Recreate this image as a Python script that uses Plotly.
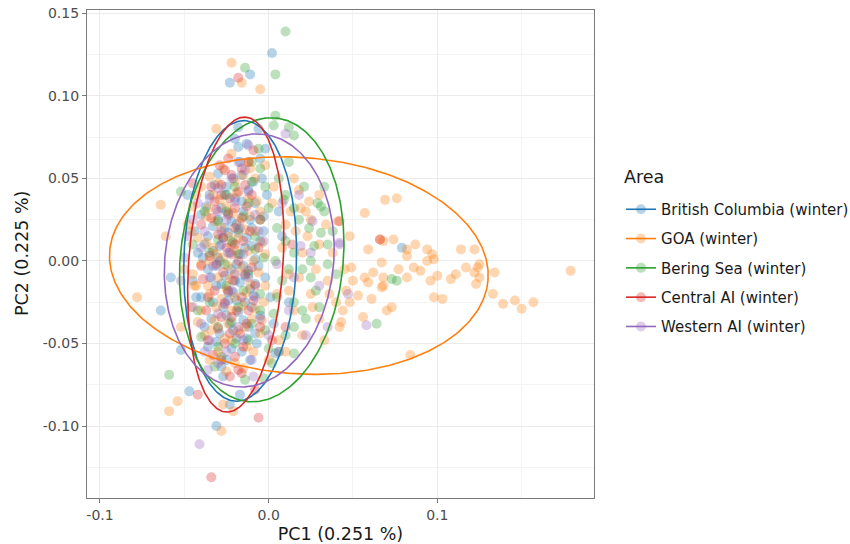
import numpy as np
import plotly.graph_objects as go

areas = ["British Columbia (winter)", "GOA (winter)", "Bering Sea (winter)",
         "Central AI (winter)", "Western AI (winter)"]
colors = ["#1f77b4", "#ff7f0e", "#2ca02c", "#d62728", "#9467bd"]

bc_points = [
    (0.002, 0.126), (-0.011, 0.113), (-0.023, 0.108), (-0.064, -0.030), (-0.047, -0.079),
    (-0.031, -0.100), (-0.023, -0.087), (-0.017, -0.081), (-0.052, -0.054), (-0.027, -0.070),
    (0.079, 0.008), (-0.058, -0.010),
    (-0.006, 0.080), (-0.018, 0.081), (-0.020, 0.074), (-0.013, 0.071), (-0.018, 0.069),
    (-0.002, 0.068), (-0.005, 0.062), (-0.017, 0.060), (-0.030, 0.053),
    (-0.025, 0.045), (-0.012, 0.043), (-0.035, 0.040), (-0.020, 0.038), (-0.008, 0.035),
    (-0.028, 0.032), (-0.015, 0.030), (-0.040, 0.028), (-0.003, 0.027), (-0.022, 0.024),
    (-0.033, 0.021), (-0.010, 0.020), (-0.018, 0.017), (-0.027, 0.014), (-0.005, 0.012),
    (-0.038, 0.010), (-0.014, 0.008), (-0.023, 0.005), (-0.030, 0.002), (-0.008, 0.001),
    (-0.019, -0.002), (-0.036, -0.005), (-0.012, -0.006), (-0.026, -0.009), (-0.002, -0.010),
    (-0.017, -0.013), (-0.031, -0.015), (-0.021, -0.019), (-0.009, -0.021), (-0.040, -0.022),
    (-0.014, -0.025), (-0.027, -0.028), (-0.018, -0.031), (-0.005, -0.033), (-0.034, -0.035),
    (-0.023, -0.038), (-0.012, -0.040), (-0.029, -0.044), (-0.019, -0.047), (-0.007, -0.050),
    (-0.036, -0.052), (-0.016, -0.055), (-0.025, -0.060), (0.004, -0.056), (-0.045, -0.012),
    (-0.044, 0.018), (0.008, 0.015), (0.012, -0.025), (-0.001, 0.040), (-0.016, 0.052),
    (-0.029, 0.000), (-0.021, 0.011), (-0.011, -0.017), (-0.024, -0.024), (-0.033, 0.006),
    (0.006, 0.030), (-0.048, 0.040), (-0.031, -0.003), (-0.024, -0.019), (0.001, -0.022),
    (-0.043, -0.022), (-0.020, -0.012), (-0.015, -0.003), (-0.026, 0.020),
    (-0.021, 0.050), (-0.032, 0.046), (-0.009, 0.048), (-0.026, 0.040), (-0.016, 0.036),
    (-0.037, 0.033), (-0.024, 0.029), (-0.011, 0.025), (-0.030, 0.025), (-0.019, 0.022),
    (-0.036, 0.015), (-0.013, 0.014), (-0.024, 0.017), (-0.003, 0.018), (-0.029, 0.009),
    (-0.017, 0.004), (-0.010, 0.009), (-0.039, 0.002), (-0.022, -0.005), (-0.006, -0.003),
    (-0.034, -0.010), (-0.014, -0.009), (-0.028, -0.014), (-0.008, -0.014), (-0.019, -0.024),
    (-0.033, -0.025), (-0.010, -0.028), (-0.025, -0.033), (-0.015, -0.036), (-0.038, -0.040),
    (-0.021, -0.042), (-0.008, -0.044), (-0.031, -0.049), (-0.013, -0.047), (-0.022, -0.053),
    (-0.028, -0.064), (-0.011, -0.060), (-0.042, 0.005), (0.003, -0.038), (-0.004, 0.050),
]

goa_points = [
    (-0.022, 0.120), (-0.016, 0.108), (-0.005, 0.104), (-0.031, 0.080), (-0.078, -0.022),
    (-0.054, -0.085), (-0.059, -0.091), (-0.028, -0.103), (-0.027, -0.087), (-0.021, -0.091),
    (0.010, -0.055), (0.084, -0.057), (0.179, -0.006), (-0.064, 0.034), (-0.061, 0.015),
    (-0.022, 0.065),
    (0.069, 0.037), (0.076, 0.038), (0.057, 0.029), (0.066, 0.013), (0.068, 0.012),
    (0.074, 0.013), (0.059, 0.007), (0.082, 0.007), (0.087, 0.010), (0.082, 0.003),
    (0.094, 0.007), (0.097, 0.004), (0.098, 0.001), (0.094, 0.000), (0.114, 0.007),
    (0.122, 0.007), (0.125, -0.002), (0.124, -0.004), (0.117, -0.004), (0.122, -0.007),
    (0.125, -0.010), (0.134, -0.007), (0.111, -0.008), (0.108, -0.011), (0.100, -0.009),
    (0.096, -0.012), (0.123, -0.014), (0.133, -0.020), (0.139, -0.026), (0.146, -0.024),
    (0.150, -0.029), (0.157, -0.025), (0.098, -0.022), (0.103, -0.023), (0.082, -0.010),
    (0.090, -0.006), (0.086, -0.004), (0.077, -0.005), (0.068, -0.010), (0.067, -0.001),
    (0.062, -0.007), (0.057, -0.010), (0.059, -0.013), (0.049, -0.004), (0.061, -0.023),
    (0.067, -0.016), (0.068, -0.015), (0.053, -0.021), (0.046, -0.018), (0.048, -0.025),
    (0.070, -0.030), (0.073, -0.028), (0.056, -0.034), (0.043, -0.037),
    (0.018, 0.043), (0.024, 0.036), (0.019, 0.032), (0.025, 0.025), (0.034, 0.022),
    (0.041, 0.024), (0.020, 0.005), (0.023, 0.015), (0.028, -0.005), (0.035, -0.012),
    (0.025, -0.020), (0.040, -0.025), (0.030, -0.035), (0.045, -0.005), (0.038, 0.005),
    (0.033, -0.048), (0.020, -0.045), (0.042, -0.040), (0.015, -0.030), (0.048, 0.015),
    (-0.035, 0.051), (-0.011, 0.056), (-0.012, 0.060), (-0.002, 0.058), (-0.040, 0.045),
    (-0.020, 0.048), (-0.033, 0.040), (-0.012, 0.038), (-0.045, 0.033), (-0.025, 0.033),
    (-0.005, 0.030), (-0.037, 0.027), (-0.017, 0.024), (-0.028, 0.020), (-0.008, 0.018),
    (-0.042, 0.014), (-0.022, 0.010), (-0.012, 0.006), (-0.033, 0.008), (-0.002, 0.004),
    (-0.027, 0.002), (-0.040, -0.002), (-0.016, -0.004), (-0.006, -0.007), (-0.030, -0.010),
    (-0.020, -0.008), (-0.043, -0.015), (-0.011, -0.014), (-0.025, -0.017), (-0.035, -0.020),
    (-0.015, -0.027), (-0.028, -0.023), (-0.003, -0.025), (-0.040, -0.030), (-0.022, -0.030),
    (-0.010, -0.035), (-0.032, -0.036), (-0.018, -0.042), (-0.038, -0.045), (-0.026, -0.047),
    (-0.005, -0.044), (-0.013, -0.052), (-0.030, -0.055), (-0.020, -0.062), (0.005, -0.020),
    (0.008, 0.008), (0.003, 0.045), (-0.050, -0.005), (-0.048, 0.022), (-0.052, -0.040),
    (-0.018, 0.014), (-0.024, -0.003), (0.000, -0.060), (-0.008, 0.050), (-0.035, 0.000),
    (0.010, 0.022), (-0.044, -0.015), (-0.046, -0.028), (-0.030, 0.047), (0.012, -0.008),
    (-0.027, 0.056), (-0.015, 0.052), (-0.043, 0.040), (-0.029, 0.037), (-0.019, 0.041),
    (-0.007, 0.036), (-0.036, 0.032), (-0.021, 0.029), (-0.011, 0.027), (-0.032, 0.024),
    (-0.046, 0.018), (-0.024, 0.015), (-0.014, 0.019), (-0.004, 0.011), (-0.037, 0.011),
    (-0.019, 0.006), (-0.009, 0.000), (-0.031, 0.004), (-0.045, -0.008), (-0.023, -0.011),
    (-0.013, -0.019), (-0.036, -0.015), (-0.002, -0.015), (-0.020, -0.022), (-0.031, -0.028),
    (-0.008, -0.029), (-0.042, -0.037), (-0.024, -0.038), (-0.014, -0.040), (-0.034, -0.042),
    (-0.004, -0.036), (-0.022, -0.048), (-0.009, -0.055), (-0.035, -0.060), (-0.025, -0.067),
    (-0.015, -0.065), (0.006, -0.048), (0.002, 0.035), (0.013, 0.030), (0.012, -0.018),
    (0.018, -0.010), (0.022, 0.030), (0.016, 0.018), (0.030, 0.010), (0.026, -0.028),
    (0.036, -0.020), (0.044, -0.030), (0.030, 0.040), (0.050, -0.012), (0.015, 0.050),
]

bering_points = [
    (0.010, 0.139), (-0.014, 0.117), (0.004, 0.113), (0.004, 0.088), (0.012, 0.081),
    (0.003, 0.082), (0.015, 0.076), (-0.059, -0.069), (-0.052, 0.042), (0.073, -0.011),
    (0.076, -0.012), (0.064, -0.038), (-0.032, -0.064), (-0.014, -0.072), (-0.003, -0.071),
    (0.015, -0.056),
    (0.021, 0.045), (0.031, 0.033), (0.033, 0.030), (0.031, 0.017), (0.027, 0.009),
    (0.010, 0.040), (0.009, 0.037), (-0.005, 0.056), (-0.010, 0.048), (-0.025, 0.040),
    (0.000, 0.032), (-0.015, 0.027), (-0.030, 0.024), (0.005, 0.020), (-0.008, 0.015),
    (-0.022, 0.012), (0.015, 0.005), (-0.003, 0.002), (-0.035, 0.005), (0.020, -0.005),
    (-0.012, -0.008), (0.008, -0.012), (-0.025, -0.015), (0.028, -0.018), (-0.005, -0.020),
    (0.015, -0.025), (-0.018, -0.028), (0.003, -0.032), (0.022, -0.035), (-0.010, -0.038),
    (-0.030, -0.040), (0.010, -0.045), (-0.020, -0.050), (0.000, -0.053), (-0.040, -0.046),
    (0.025, -0.010), (0.035, -0.002), (-0.045, 0.010), (-0.042, -0.030), (0.018, 0.025),
    (0.002, -0.062), (-0.006, 0.068), (0.012, 0.060), (-0.028, -0.058), (0.038, 0.018),
    (0.030, -0.028), (0.033, 0.045), (0.040, -0.008), (0.029, 0.035), (-0.018, 0.004),
    (-0.020, 0.045), (-0.002, 0.045), (0.006, 0.050), (-0.012, 0.035), (0.015, 0.032),
    (-0.025, 0.030), (-0.005, 0.025), (0.024, 0.020), (-0.018, 0.019), (0.010, 0.012),
    (-0.030, 0.013), (-0.008, 0.007), (0.004, 0.000), (-0.026, -0.002), (0.012, -0.005),
    (-0.015, -0.018), (-0.035, -0.025), (0.005, -0.022), (0.020, -0.030), (-0.005, -0.030),
    (-0.022, -0.037), (0.015, -0.040), (-0.012, -0.048), (0.006, -0.055), (-0.030, -0.052),
    (-0.002, -0.042), (0.025, 0.000), (-0.038, 0.030), (0.035, 0.010), (-0.010, 0.060),
]

central_points = [
    (-0.018, 0.111), (-0.042, -0.081), (-0.034, -0.131), (-0.006, -0.095), (-0.018, -0.066),
    (-0.008, -0.078), (0.066, 0.013), (0.042, 0.024),
    (-0.009, 0.067), (-0.022, 0.052), (-0.028, 0.046), (-0.018, 0.042), (-0.032, 0.036),
    (-0.013, 0.033), (-0.024, 0.028), (-0.020, 0.020), (-0.030, 0.016), (-0.015, 0.012),
    (-0.025, 0.008), (-0.035, 0.003), (-0.018, 0.000), (-0.010, -0.004), (-0.027, -0.007),
    (-0.021, -0.012), (-0.032, -0.018), (-0.016, -0.022), (-0.026, -0.026), (-0.012, -0.030),
    (-0.037, -0.030), (-0.022, -0.034), (-0.030, -0.041), (-0.017, -0.044), (-0.026, -0.050),
    (-0.033, -0.057), (-0.020, -0.058), (-0.040, 0.022), (-0.005, 0.025), (-0.008, -0.015),
    (-0.029, 0.058), (0.002, -0.048), (-0.039, -0.011), (-0.023, 0.038), (-0.014, 0.046),
    (0.010, -0.040), (0.014, 0.010), (-0.045, 0.047), (-0.024, 0.062), (-0.016, -0.068),
    (-0.026, 0.055), (-0.016, 0.056), (-0.034, 0.045), (-0.020, 0.032), (-0.028, 0.040),
    (-0.010, 0.040), (-0.034, 0.026), (-0.016, 0.026), (-0.027, 0.014), (-0.011, 0.018),
    (-0.022, 0.004), (-0.031, -0.002), (-0.014, -0.008), (-0.024, -0.018), (-0.036, -0.022),
    (-0.009, -0.024), (-0.019, -0.030), (-0.028, -0.034), (-0.013, -0.038), (-0.023, -0.044),
    (-0.036, -0.048), (-0.015, -0.052), (-0.028, -0.060), (-0.005, -0.040), (-0.040, -0.003),
    (-0.006, 0.008), (-0.020, 0.010), (-0.031, 0.031), (-0.023, -0.070), (-0.012, 0.060),
]

western_points = [
    (-0.041, -0.111), (-0.036, -0.066), (-0.009, -0.070), (0.047, -0.020), (0.058, -0.039),
    (0.042, 0.011), (0.010, 0.077),
    (-0.012, 0.070), (-0.030, 0.044), (-0.020, 0.036), (-0.045, 0.025), (-0.008, 0.028),
    (-0.038, 0.018), (0.026, 0.024), (0.019, 0.009), (0.042, 0.010), (-0.028, 0.010),
    (-0.015, 0.004), (-0.050, 0.002), (0.005, -0.002), (-0.035, -0.010), (-0.022, -0.018),
    (-0.008, -0.022), (-0.045, -0.028), (0.012, -0.030), (-0.030, -0.032), (-0.018, -0.040),
    (0.000, -0.045), (-0.035, -0.048), (-0.025, -0.055), (-0.010, -0.060), (0.030, -0.015),
    (0.022, -0.045), (-0.003, 0.012), (-0.025, 0.025), (0.035, -0.040), (-0.052, -0.012),
    (-0.042, 0.035), (-0.014, 0.055),
    (-0.022, 0.050), (-0.035, 0.038), (-0.012, 0.042), (-0.030, 0.030), (-0.017, 0.020),
    (-0.040, 0.008), (-0.006, 0.018), (-0.024, 0.005), (-0.033, -0.003), (-0.012, -0.010),
    (-0.026, -0.025), (-0.040, -0.038), (-0.005, -0.035), (-0.015, -0.048), (-0.030, -0.062),
    (0.015, -0.010), (0.025, 0.005), (0.008, 0.035), (-0.048, 0.015), (-0.020, -0.008),
    (0.018, 0.040), (-0.028, 0.018), (0.006, -0.055), (-0.038, -0.055), (-0.018, 0.060),
]

# 95% ellipse parameters per area: centre, semi-major, semi-minor, angle (deg)
ell_cx = [-0.0169, 0.0179, -0.0041, -0.0195, -0.0115]
ell_cy = [0.0000, -0.0028, 0.0007, -0.0022, 0.0003]
ell_a = [0.0850, 0.1125, 0.0863, 0.0895, 0.0769]
ell_b = [0.0334, 0.0655, 0.0483, 0.0280, 0.0500]
ell_theta = [88.3, -4.5, 84.6, 86.3, 84.0]

x_tickvals = [-0.1, 0.0, 0.1]
x_ticktext = ["-0.1", "0.0", "0.1"]
y_tickvals = [-0.10, -0.05, 0.00, 0.05, 0.10, 0.15]
y_ticktext = ["-0.10", "-0.05", "0.00", "0.05", "0.10", "0.15"]

groups = [bc_points, goa_points, bering_points, central_points, western_points]

FONT = "DejaVu Sans"
fig = go.Figure()

for name, col, pts in zip(areas, colors, groups):
    xs = [p[0] for p in pts]
    ys = [p[1] for p in pts]
    fig.add_trace(go.Scatter(
        x=xs, y=ys, mode="markers", name=name, legendgroup=name, showlegend=False,
        marker=dict(color=col, size=10, opacity=0.32, line=dict(width=0)),
        hoverinfo="skip"))

t = np.linspace(0, 2 * np.pi, 361)
for i, (name, col) in enumerate(zip(areas, colors)):
    th = np.deg2rad(ell_theta[i])
    ex = ell_cx[i] + ell_a[i] * np.cos(t) * np.cos(th) - ell_b[i] * np.sin(t) * np.sin(th)
    ey = ell_cy[i] + ell_a[i] * np.cos(t) * np.sin(th) + ell_b[i] * np.sin(t) * np.cos(th)
    fig.add_trace(go.Scatter(
        x=ex, y=ey, mode="lines", name=name, legendgroup=name, showlegend=False,
        line=dict(color=col, width=1.6), hoverinfo="skip"))

for name, col in zip(areas, colors):
    fig.add_trace(go.Scatter(
        x=[None], y=[None], mode="lines+markers", name=name, legendgroup=name,
        showlegend=True, line=dict(color=col, width=1.6),
        marker=dict(color=col, size=10, opacity=0.32)))

axis_common = dict(
    showgrid=True, gridcolor="#ebebeb", gridwidth=1,
    showline=True, linecolor="#7a7a7a", linewidth=1.3, mirror=True,
    ticks="outside", ticklen=4, tickcolor="#7a7a7a", tickwidth=1,
    zeroline=False, automargin=False,
    tickfont=dict(family=FONT, size=14, color="#4d4d4d"),
    minor=dict(showgrid=True, gridcolor="#f4f4f4", gridwidth=0.8, ticks=""),
)

fig.update_layout(
    width=850, height=544,
    margin=dict(l=87, r=256, t=10, b=46),
    paper_bgcolor="white", plot_bgcolor="white",
    font=dict(family=FONT, color="#1a1a1a"),
    xaxis=dict(range=[-0.1077, 0.1929], tickvals=x_tickvals, ticktext=x_ticktext,
               title=dict(text="PC1 (0.251 %)", font=dict(family=FONT, size=17.5, color="#1a1a1a")),
               **axis_common),
    yaxis=dict(range=[-0.1436, 0.152], tickvals=y_tickvals, ticktext=y_ticktext,
               **axis_common),
    legend=dict(
        font=dict(family=FONT, size=15, color="#1a1a1a"),
        xref="container", yref="container", x=0.7306, y=0.6452,
        xanchor="left", yanchor="top", tracegroupgap=6.8,
        bgcolor="rgba(0,0,0,0)",
    ),
    annotations=[
        dict(text="Area", xref="paper", yref="paper", x=(622 - 87) / 507, y=1 - (177 - 10) / 488,
             xanchor="left", yanchor="middle", showarrow=False,
             font=dict(family=FONT, size=17.5, color="#1a1a1a")),
        dict(text="PC2 (0.225 %)", xref="paper", yref="paper", x=(22 - 87) / 507, y=0.5,
             xanchor="center", yanchor="middle", textangle=-90, showarrow=False,
             font=dict(family=FONT, size=17.5, color="#1a1a1a")),
    ],
    showlegend=True,
)
fig.update_xaxes(minor=dict(tickvals=[-0.05, 0.05, 0.15]))
fig.update_yaxes(minor=dict(tickvals=[-0.125, -0.075, -0.025, 0.025, 0.075, 0.125]))

fig.write_html("out.html")
